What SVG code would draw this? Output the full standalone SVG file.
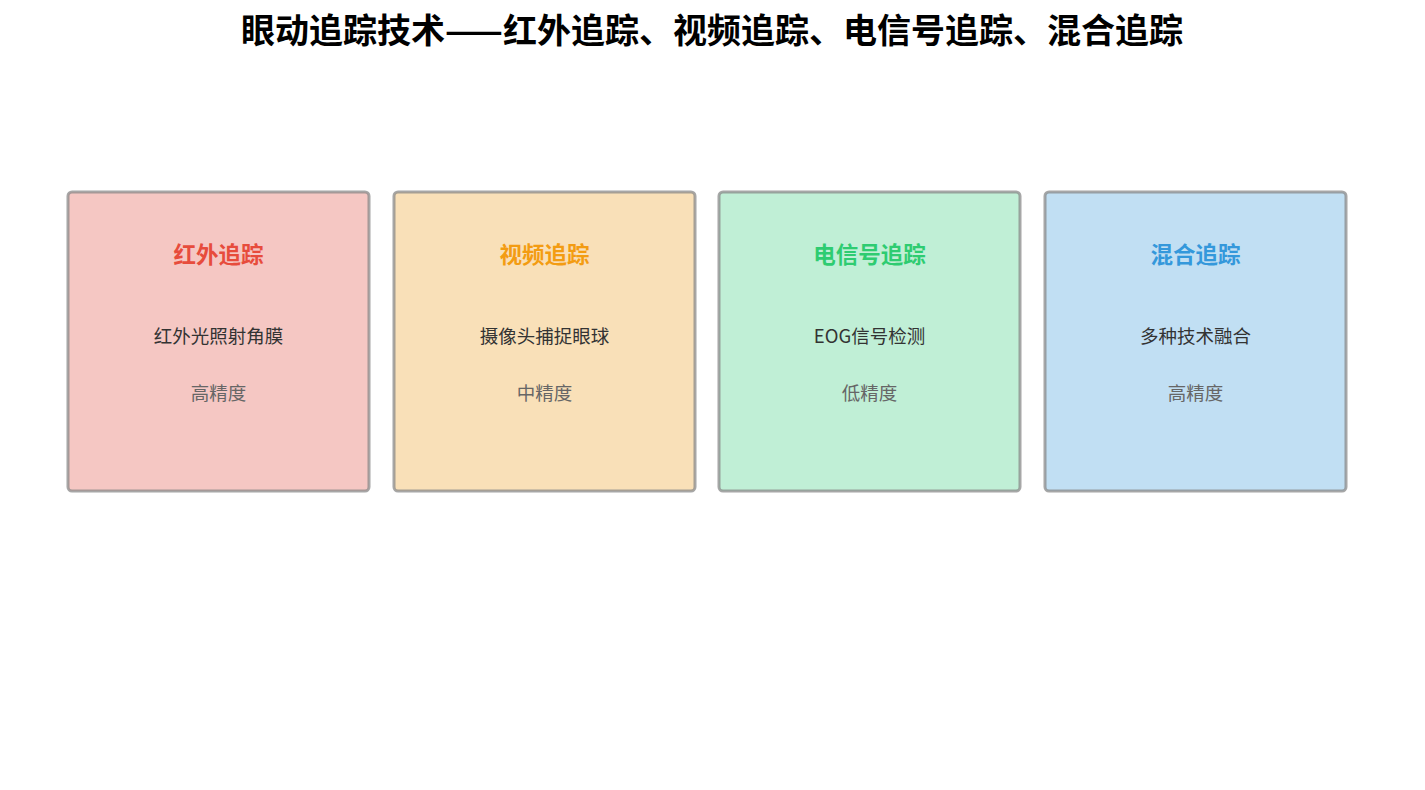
<svg xmlns="http://www.w3.org/2000/svg" width="1425" height="790" viewBox="0 0 1425 790">
<style>
.box{stroke:#8a8a8a;stroke-opacity:0.75;stroke-width:3}
.t{font-family:"Noto Sans CJK SC","Noto Sans",sans-serif;text-anchor:middle}
.h{font-size:22.5px;font-weight:bold}
.d{font-size:18.5px;fill:#333}
.p{font-size:18.5px;fill:#666}
</style>
<rect width="1425" height="790" fill="#fff"/>
<text class="t" x="712" y="43" font-size="34" font-weight="bold" fill="#000">眼动追踪技术——红外追踪、视频追踪、电信号追踪、混合追踪</text>
<g id="node-ir">
<rect class="box" x="68" y="192" width="301" height="299" rx="4" fill="#f5c7c3"/>
<text class="t h" x="218.5" y="263" fill="#e74c3c">红外追踪</text>
<text class="t d" x="218.5" y="343">红外光照射角膜</text>
<text class="t p" x="218.5" y="400">高精度</text>
</g>
<g id="node-video">
<rect class="box" x="394" y="192" width="301" height="299" rx="4" fill="#f9e0b8"/>
<text class="t h" x="544.5" y="263" fill="#f39c12">视频追踪</text>
<text class="t d" x="544.5" y="343">摄像头捕捉眼球</text>
<text class="t p" x="544.5" y="400">中精度</text>
</g>
<g id="node-eog">
<rect class="box" x="719" y="192" width="301" height="299" rx="4" fill="#c0efd6"/>
<text class="t h" x="869.5" y="263" fill="#2ecc71">电信号追踪</text>
<text class="t d" x="869.5" y="343">EOG信号检测</text>
<text class="t p" x="869.5" y="400">低精度</text>
</g>
<g id="node-hybrid">
<rect class="box" x="1045" y="192" width="301" height="299" rx="4" fill="#c1dff3"/>
<text class="t h" x="1195.5" y="263" fill="#3498db">混合追踪</text>
<text class="t d" x="1195.5" y="343">多种技术融合</text>
<text class="t p" x="1195.5" y="400">高精度</text>
</g>
<g id="connectors"></g>
</svg>
